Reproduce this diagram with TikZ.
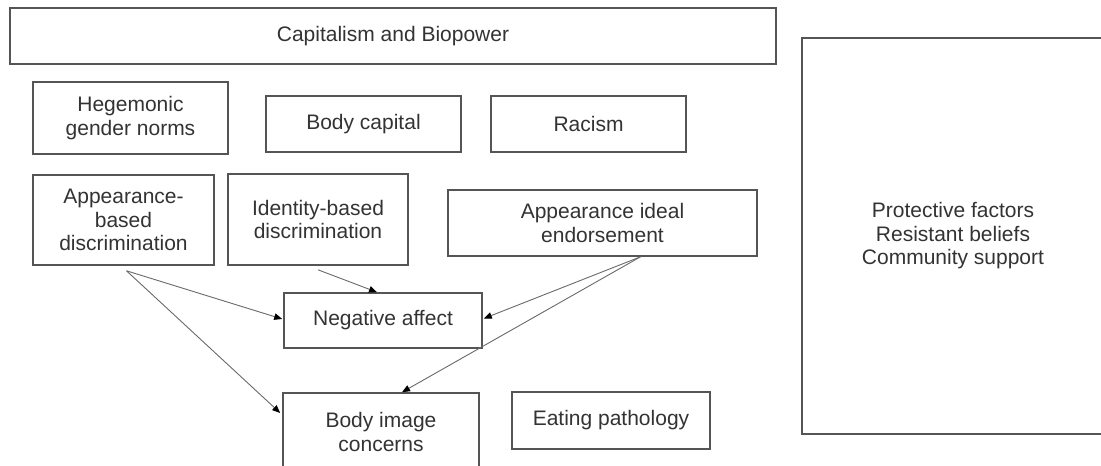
\documentclass[tikz,border=0pt]{standalone}
\usepackage{fontspec}
\setmainfont{Liberation Sans}
\usetikzlibrary{arrows.meta,calc}
\definecolor{ink}{HTML}{333333}
\definecolor{edge}{HTML}{555555}
\definecolor{wire}{HTML}{6A6A6A}
\begin{document}
\begin{tikzpicture}[x=1pt,y=-1pt,
  box/.style={draw=edge,line width=1.6pt,text=ink,align=center,inner sep=0pt,
    font=\fontsize{21}{23.5}\selectfont},
  link/.style={draw=wire,line width=0.9pt,-{Triangle[length=8pt,width=6.5pt,color=black]}}]
  \useasboundingbox (0,0) rectangle (1101,466);
  \fill[white] (0,0) rectangle (1101,466);
  \clip (0,0) rectangle (1101,466);

  % context and structural factors
  \node[box,minimum width=766,minimum height=56] (cap) at (393,36) {Capitalism and Biopower};
  \node[box,minimum width=195,minimum height=72] (heg) at (130.5,118) {Hegemonic\\gender norms};
  \node[box,minimum width=195,minimum height=56] (bcap) at (363.5,124) {Body capital};
  \node[box,minimum width=195,minimum height=56] (rac) at (588.5,124) {Racism};

  % experiences
  \node[box,minimum width=181,minimum height=90] (appb) at (123.5,220) {Appearance-\\based\\discrimination};
  \node[box,minimum width=180,minimum height=91] (idb) at (318,219.5) {Identity-based\\discrimination};
  \node[box,minimum width=309,minimum height=66] (aie) at (602.5,223) {Appearance ideal\\endorsement};

  % outcomes
  \node[box,minimum width=198,minimum height=55] (neg) at (383,320.5) {Negative affect};
  \node[box,minimum width=196,minimum height=78] (bic) at (381,432) {Body image\\concerns};
  \node[box,minimum width=198,minimum height=57] (eat) at (611,420.5) {Eating pathology};

  % protective factors
  \node[box,minimum width=302,minimum height=396] (prot) at (953,236) {Protective factors\\Resistant beliefs\\Community support};

  % arrow origins just below the source boxes
  \coordinate (appbOut) at ($(appb.south)+(3,5)$);
  \coordinate (idbOut) at ($(idb.south)+(0,4)$);
  \coordinate (aieOut) at ($(aie.south)+(38,0)$);

  \draw[link] (appbOut) -- ($(neg.west)+(-1,-1.5)$);
  \draw[link] (appbOut) -- ($(bic.west)+(-2,-19)$);
  \draw[link] (idbOut) -- ($(neg.north)+(-6,0)$);
  \draw[link] (aieOut) -- ($(neg.east)+(1,-2)$);
  \draw[link] (aieOut) -- ($(bic.north)+(21,0)$);
\end{tikzpicture}
\end{document}
